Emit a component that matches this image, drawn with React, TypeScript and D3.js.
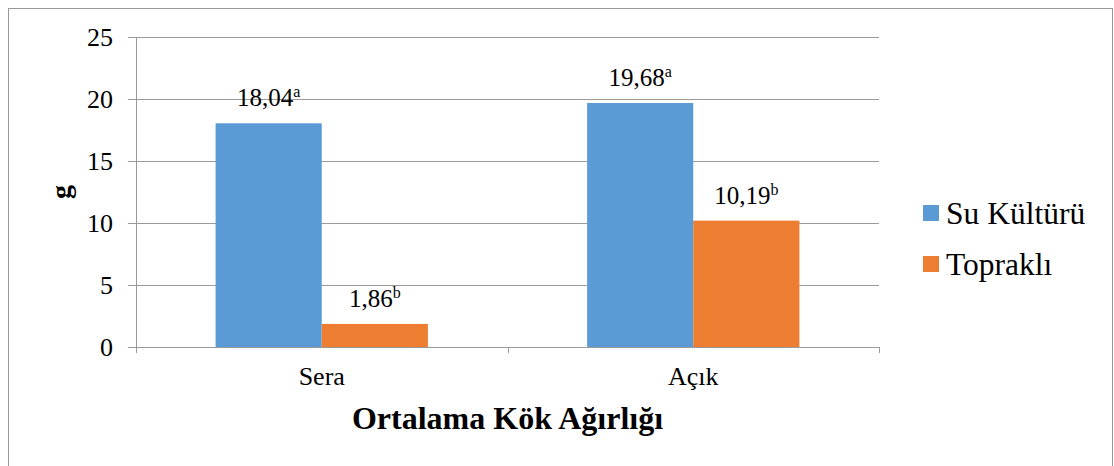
import React from "react";
import * as d3 from "d3";

const categories = ["Sera", "Açık"];
const seriesNames = ["Su Kültürü", "Topraklı"];
const suKulturu = [18.04, 19.68];
const toprakli = [1.86, 10.19];
const suKulturuLetters = ["a", "a"];
const topraklıLetters = ["b", "b"];
const yTicks = [0, 5, 10, 15, 20, 25];
const colors = ["#5B9BD5", "#ED7D31"];
const xTitle = "Ortalama Kök Ağırlığı";
const yTitle = "g";

const W = 1114;
const H = 466;
const plotLeft = 136;
const plotRight = 879;
const plotTop = 37;
const plotBottom = 347;
const FONT = "Liberation Serif";

export default function App() {
  const y = d3.scaleLinear().domain([0, 25]).range([plotBottom, plotTop]);
  const x0 = d3.scaleBand<string>().domain(categories).range([plotLeft, plotRight]).paddingInner(0).paddingOuter(0);
  const x1 = d3.scaleBand<string>().domain(seriesNames).range([0, x0.bandwidth()]).paddingInner(0).paddingOuter(0.75);
  const values = [suKulturu, toprakli];
  const letters = [suKulturuLetters, topraklıLetters];
  const fmt = (v: number) => d3.format(".2f")(v).replace(".", ",");
  const boundaries = [plotLeft, ...categories.map((c) => (x0(c) as number) + x0.bandwidth())];
  const tf = { fontFamily: FONT, fill: "#000" } as const;

  return (
    <svg width={W} height={H} style={{ position: "absolute", left: 0, top: 0, background: "#fff" }}>
      <rect x={8.5} y={8.5} width={1104} height={470} fill="#fff" stroke="#9a9a9a" strokeWidth={1} />
      {yTicks.map((t) => (
        <g key={t}>
          <line x1={plotLeft - 8} x2={plotRight} y1={Math.round(y(t)) + 0.5} y2={Math.round(y(t)) + 0.5} stroke="#9a9a9a" strokeWidth={1} />
          <text x={113} y={y(t) + 9} textAnchor="end" fontSize={26} style={tf}>{t}</text>
        </g>
      ))}
      <line x1={plotLeft + 0.5} x2={plotLeft + 0.5} y1={plotTop} y2={plotBottom + 6} stroke="#9a9a9a" />
      {boundaries.map((b, i) => (
        <line key={i} x1={Math.round(b) + 0.5} x2={Math.round(b) + 0.5} y1={plotBottom} y2={plotBottom + 6} stroke="#9a9a9a" />
      ))}
      {categories.map((c, ci) => (
        <g key={c}>
          {seriesNames.map((s, si) => {
            const v = values[si][ci];
            const bx = (x0(c) as number) + (x1(s) as number);
            const bw = x1.bandwidth();
            return (
              <g key={s}>
                <rect x={bx} y={y(v)} width={bw} height={y(0) - y(v)} fill={colors[si]} />
                <text x={bx + bw / 2} y={y(v) - 17} textAnchor="middle" fontSize={25} style={tf}>
                  {fmt(v)}
                  <tspan fontSize={16} dy={-9} style={tf}>{letters[si][ci]}</tspan>
                </text>
              </g>
            );
          })}
          <text x={(x0(c) as number) + x0.bandwidth() / 2} y={385} textAnchor="middle" fontSize={26} style={tf}>{c}</text>
        </g>
      ))}
      <line x1={plotLeft} x2={plotRight} y1={plotBottom + 0.5} y2={plotBottom + 0.5} stroke="#9a9a9a" />
      <text x={(plotLeft + plotRight) / 2} y={429} textAnchor="middle" fontSize={32} fontWeight="bold" style={tf}>{xTitle}</text>
      <text transform={`translate(70,192) rotate(-90)`} textAnchor="middle" fontSize={28} fontWeight="bold" style={tf}>{yTitle}</text>
      {seriesNames.map((s, i) => (
        <g key={s}>
          <rect x={923} y={205 + i * 51} width={16} height={16} fill={colors[i]} />
          <text x={946} y={224 + i * 51} fontSize={31.5} style={tf}>{s}</text>
        </g>
      ))}
    </svg>
  );
}
